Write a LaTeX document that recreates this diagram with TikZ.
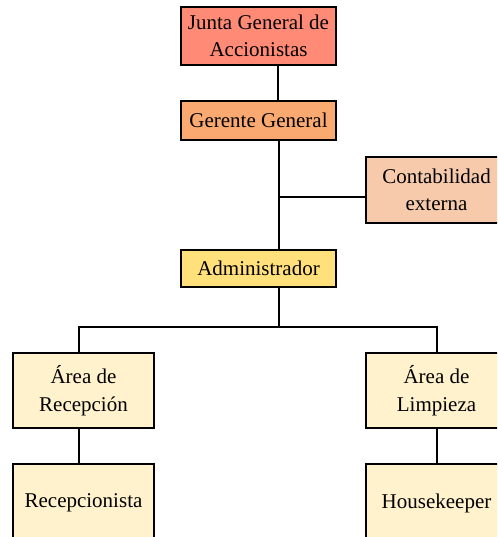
\documentclass[tikz,border=0pt]{standalone}
\usepackage{fontspec}
\setmainfont{Liberation Serif}
\definecolor{cJunta}{RGB}{255,138,118}
\definecolor{cGer}{RGB}{250,170,112}
\definecolor{cCont}{RGB}{246,202,170}
\definecolor{cAdm}{RGB}{255,224,122}
\definecolor{cLow}{RGB}{255,242,204}
\tikzset{
  orgbox/.style={draw=black, line width=1.9pt, rectangle, align=center, inner sep=0pt,
    font=\fontsize{21}{27.5}\selectfont},
  link/.style={draw=black, line width=1.4pt}
}
\begin{document}
\begin{tikzpicture}[x=1pt,y=-1pt]
\useasboundingbox (0,0) rectangle (497,537);
\clip (0,0) rectangle (497,537);
\fill[white] (0,0) rectangle (497,537);
\node[orgbox, fill=cJunta, minimum width=155pt, minimum height=58pt] (junta) at (258.5,36) {Junta General de\\Accionistas};
\node[orgbox, fill=cGer, minimum width=155pt, minimum height=39pt] (ger) at (258.5,120.5) {Gerente General};
\node[orgbox, fill=cCont, minimum width=141pt, minimum height=66pt] (cont) at (436.5,190) {Contabilidad\\externa};
\node[orgbox, fill=cAdm, minimum width=155pt, minimum height=37pt] (adm) at (258.5,268.5) {Administrador};
\node[orgbox, fill=cLow, minimum width=141pt, minimum height=75pt] (arec) at (83.5,390.5) {Área de\\Recepción};
\node[orgbox, fill=cLow, minimum width=141pt, minimum height=75pt] (alim) at (436.5,390.5) {Área de\\Limpieza};
\node[orgbox, fill=cLow, minimum width=141pt, minimum height=78pt] (rec) at (83.5,503) {Recepcionista};
\node[orgbox, fill=cLow, minimum width=141pt, minimum height=78pt] (hk) at (436.5,503) {Housekeeper};
\coordinate (spineA) at (278,0);
\coordinate (spine) at (279,0);
\coordinate (cbranch) at (279,197);
\coordinate (bus) at (279,327);
\coordinate (lx) at (79,0);
\coordinate (rx) at (437,0);
\draw[link] (junta.south -| spineA) -- (ger.north -| spineA);
\draw[link] (ger.south -| spine) -- (adm.north -| spine);
\draw[link] (cbranch) -- (cont.west |- cbranch);
\draw[link] (adm.south -| spine) -- (bus);
\draw[link] (arec.north -| lx) |- (bus) -| (alim.north -| rx);
\draw[link] (arec.south -| lx) -- (rec.north -| lx);
\draw[link] (alim.south -| rx) -- (hk.north -| rx);
\end{tikzpicture}
\end{document}
